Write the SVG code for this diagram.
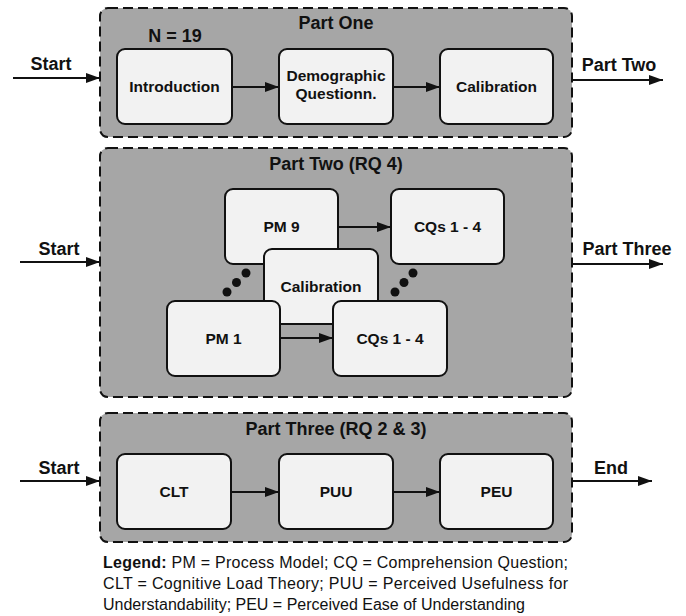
<svg xmlns="http://www.w3.org/2000/svg" width="686" height="616" viewBox="0 0 686 616">
<style>
.panel{fill:#a6a6a6;stroke:#111;stroke-width:2;stroke-dasharray:10 5}
.box{fill:#f2f2f2;stroke:#111;stroke-width:2}
.lbl{font-family:"Liberation Sans",Arial,sans-serif;font-weight:bold;font-size:15.5px;fill:#111;text-anchor:middle}
.big{font-family:"Liberation Sans",Arial,sans-serif;font-weight:bold;font-size:18px;fill:#111;text-anchor:middle}
.leg{font-family:"Liberation Sans",Arial,sans-serif;font-size:16px;fill:#111}
.arr{stroke:#111;stroke-width:2;fill:none;marker-end:url(#ah)}
.dot{fill:#111}
</style>
<defs>
<marker id="ah" viewBox="0 0 14 10" refX="14" refY="5" markerWidth="14" markerHeight="10" markerUnits="userSpaceOnUse" orient="auto">
<path d="M0,0 L14,5 L0,10 Z" fill="#111"/>
</marker>
</defs>

<g id="part1">
<rect class="panel" x="100" y="8" width="472" height="129" rx="8"/>
<text class="big" x="336" y="29">Part One</text>
<text class="big" x="175" y="42">N = 19</text>
</g>
<g id="part2">
<rect class="panel" x="100" y="148" width="472" height="249" rx="8"/>
<text class="big" x="336" y="170">Part Two (RQ 4)</text>
</g>
<g id="part3">
<rect class="panel" x="100" y="413" width="472" height="129" rx="8"/>
<text class="big" x="336" y="435">Part Three (RQ 2 &amp; 3)</text>
</g>

<g id="connectors">
<line class="arr" x1="13" y1="78" x2="100" y2="78"/>
<line class="arr" x1="232" y1="87" x2="279" y2="87"/>
<line class="arr" x1="393" y1="87" x2="440" y2="87"/>
<line class="arr" x1="572" y1="80" x2="663" y2="80"/>
<line class="arr" x1="20" y1="262" x2="100" y2="262"/>
<line class="arr" x1="572" y1="264" x2="663" y2="264"/>
<line class="arr" x1="339" y1="227" x2="391" y2="227"/>
<line class="arr" x1="20" y1="481" x2="100" y2="481"/>
<line class="arr" x1="231" y1="492" x2="279" y2="492"/>
<line class="arr" x1="393" y1="492" x2="440" y2="492"/>
<line class="arr" x1="572" y1="481" x2="652" y2="481"/>
</g>
<g id="edge-labels">
<text class="big" x="51" y="70">Start</text>
<text class="big" x="619" y="71">Part Two</text>
<text class="big" x="59" y="255">Start</text>
<text class="big" x="627" y="255">Part Three</text>
<text class="big" x="59" y="474">Start</text>
<text class="big" x="611" y="474">End</text>
</g>

<g id="introduction">
<rect class="box" x="117" y="49" width="115" height="75" rx="8"/>
<text class="lbl" x="174.5" y="92">Introduction</text>
</g>
<g id="demographic">
<rect class="box" x="279" y="49" width="114" height="75" rx="8"/>
<text class="lbl" x="336" y="81">Demographic</text>
<text class="lbl" x="336" y="99">Questionn.</text>
</g>
<g id="calibration1">
<rect class="box" x="440" y="49" width="113" height="75" rx="8"/>
<text class="lbl" x="496.5" y="92">Calibration</text>
</g>

<g id="pm9">
<rect class="box" x="225" y="189" width="113" height="75" rx="8"/>
<text class="lbl" x="281.5" y="232">PM 9</text>
</g>
<g id="cqs-upper">
<rect class="box" x="391" y="189" width="113" height="75" rx="8"/>
<text class="lbl" x="447.5" y="232">CQs 1 - 4</text>
</g>
<g id="calibration2">
<rect class="box" x="264" y="249" width="114" height="75" rx="8"/>
<text class="lbl" x="321" y="292">Calibration</text>
</g>
<g id="pm1">
<rect class="box" x="167" y="301" width="113" height="75" rx="8"/>
<text class="lbl" x="223.5" y="344">PM 1</text>
</g>
<g id="cqs-lower">
<rect class="box" x="333" y="301" width="114" height="75" rx="8"/>
<text class="lbl" x="390" y="344">CQs 1 - 4</text>
</g>
<g id="connectors2">
<line class="arr" x1="281" y1="338" x2="333" y2="338"/>
</g>
<g id="ellipsis-left">
<circle class="dot" cx="246" cy="273" r="4.5"/>
<circle class="dot" cx="236.5" cy="282.5" r="4.5"/>
<circle class="dot" cx="227" cy="292" r="4.5"/>
</g>
<g id="ellipsis-right">
<circle class="dot" cx="413" cy="273" r="4.5"/>
<circle class="dot" cx="404" cy="282.5" r="4.5"/>
<circle class="dot" cx="395" cy="292" r="4.5"/>
</g>

<g id="clt">
<rect class="box" x="117" y="454" width="114" height="75" rx="8"/>
<text class="lbl" x="174" y="497">CLT</text>
</g>
<g id="puu">
<rect class="box" x="279" y="454" width="114" height="75" rx="8"/>
<text class="lbl" x="336" y="497">PUU</text>
</g>
<g id="peu">
<rect class="box" x="440" y="454" width="113" height="75" rx="8"/>
<text class="lbl" x="496.5" y="497">PEU</text>
</g>

<g id="legend">
<text class="leg" x="103" y="568" textLength="465" lengthAdjust="spacing"><tspan font-weight="bold">Legend:</tspan> PM = Process Model; CQ = Comprehension Question;</text>
<text class="leg" x="103" y="589" textLength="465" lengthAdjust="spacing">CLT = Cognitive Load Theory; PUU = Perceived Usefulness for</text>
<text class="leg" x="103" y="610">Understandability; PEU = Perceived Ease of Understanding</text>
</g>
</svg>
